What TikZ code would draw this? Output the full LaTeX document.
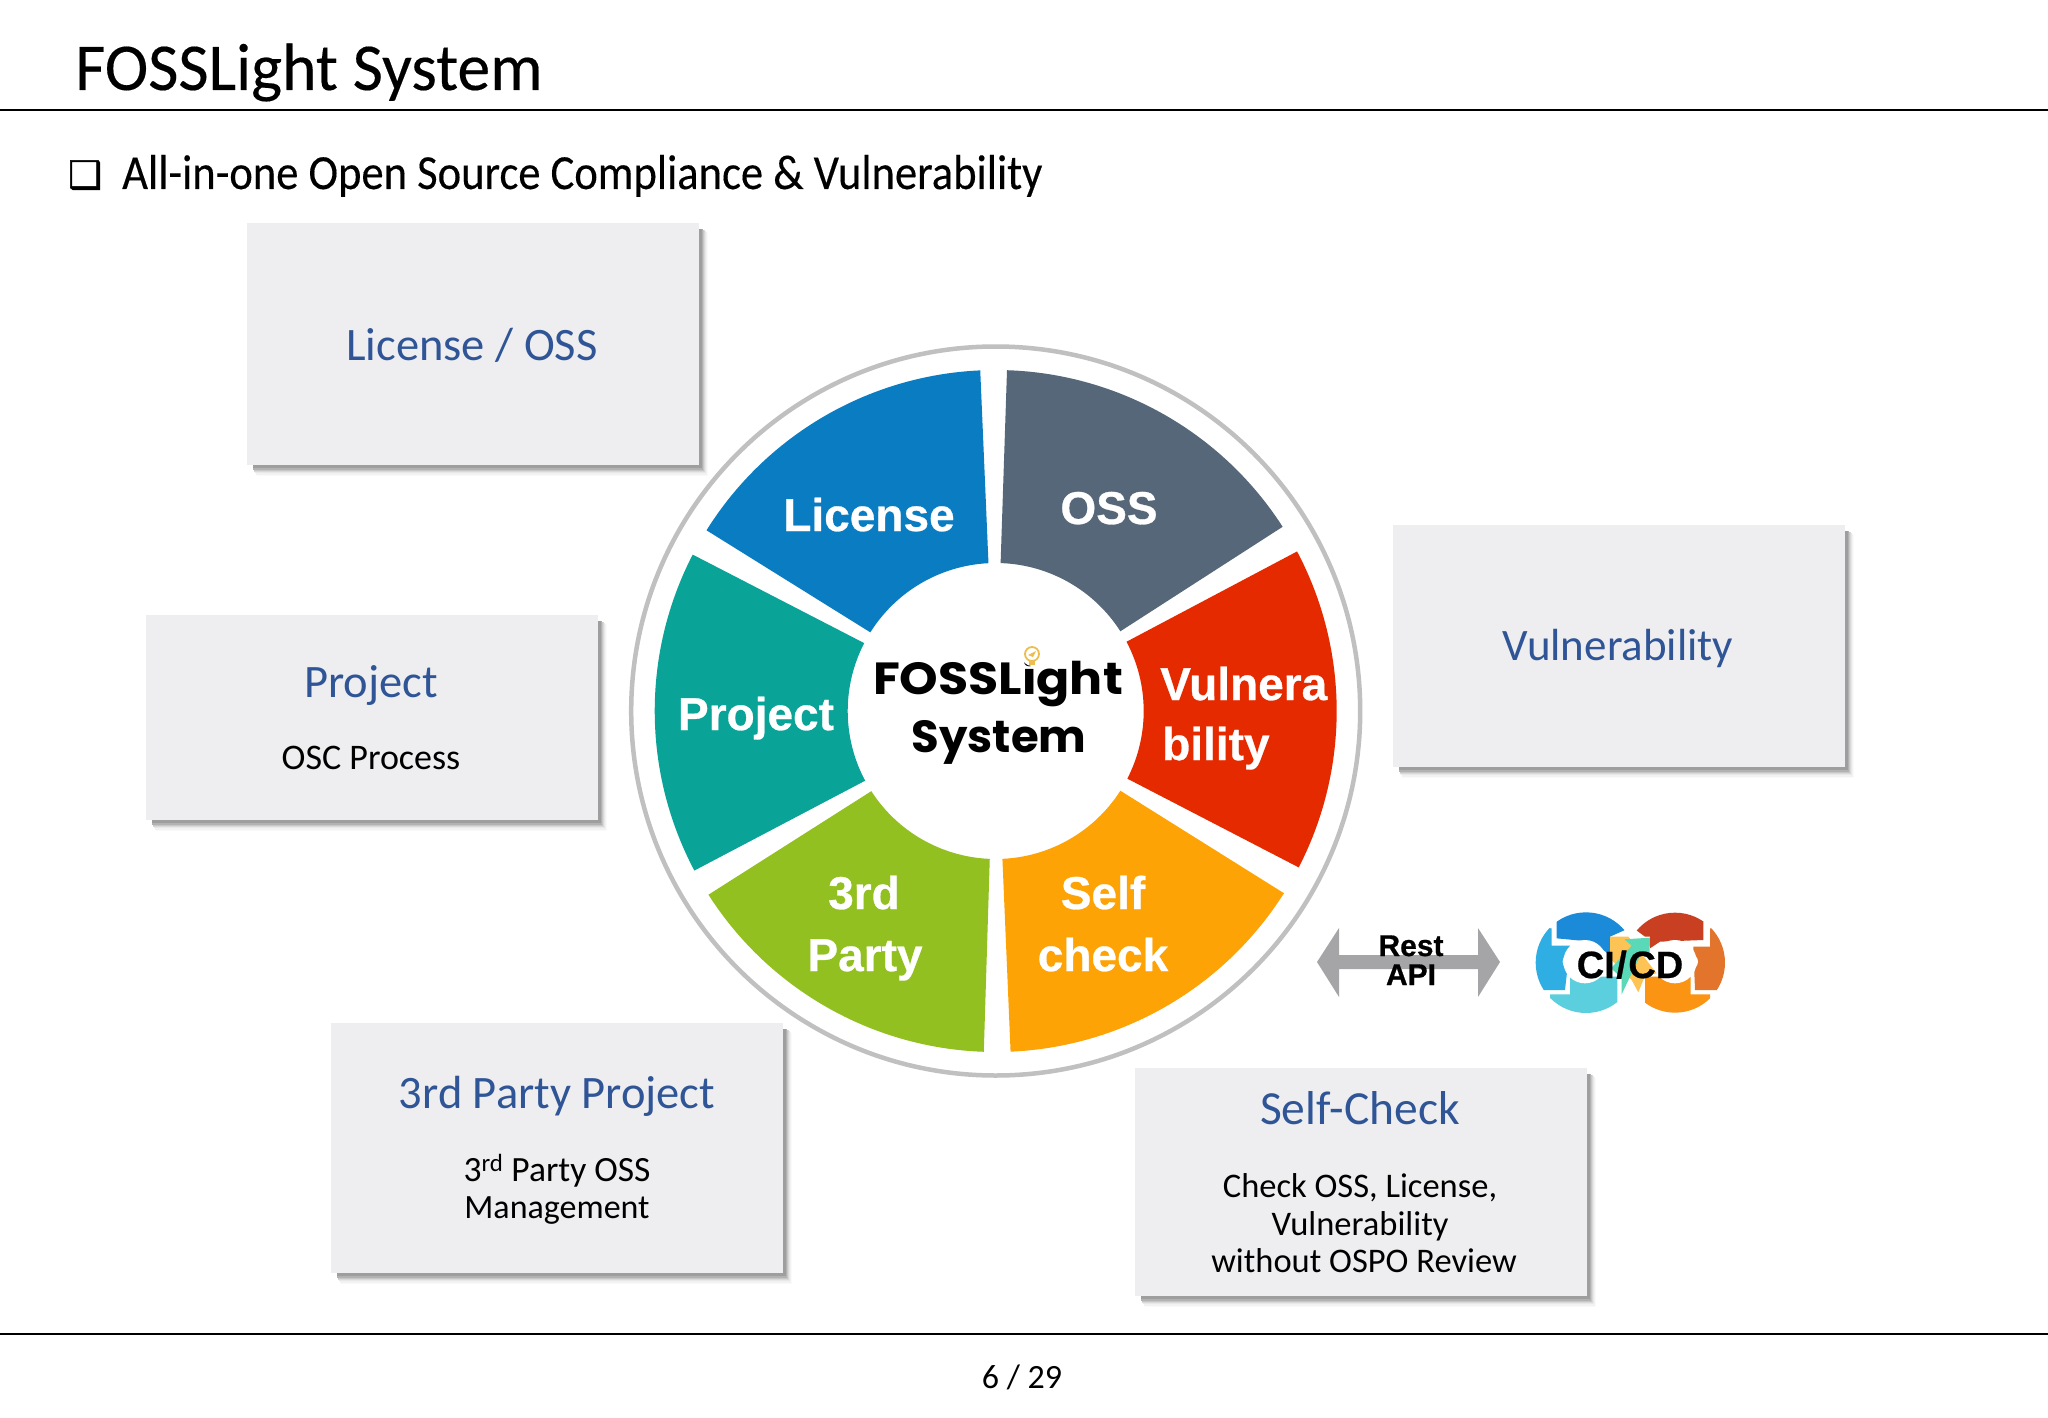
\documentclass[tikz,border=0pt]{standalone}
\usepackage{fontspec}
\setmainfont{Carlito}
\newfontfamily\titlefont{Carlito}[FakeStretch=0.98,FakeBold=0.25]
\newfontfamily\subfont{Carlito}[FakeStretch=0.91,FakeBold=0.25]
\newfontfamily\wheelfont{Liberation Sans Bold}[FakeBold=0.6]
\newfontfamily\logofont{Poppins Bold}
\newfontfamily\logowide{Poppins Bold}[FakeStretch=1.09]
\newfontfamily\symfont{DejaVu Sans}[FakeBold=1.2]
\definecolor{boxfill}{HTML}{EEEEF0}
\definecolor{headblue}{HTML}{2F5597}
\definecolor{ringgray}{HTML}{C0C0C0}
\definecolor{arrowgray}{HTML}{A5A5A8}
\definecolor{cLicense}{HTML}{0A7DC2}
\definecolor{cOSS}{HTML}{566779}
\definecolor{cVuln}{HTML}{E62A00}
\definecolor{cSelf}{HTML}{FDA305}
\definecolor{cThird}{HTML}{92C020}
\definecolor{cProject}{HTML}{0AA398}
\definecolor{bulb}{RGB}{236,190,80}
\newcommand{\fsz}[1]{\fontsize{#1}{#1}\selectfont}
\newcommand{\seg}[5]{\fill[#1] (#2:341) arc[start angle=#2,end angle=#3,radius=341] -- (#4:148) arc[start angle=#4,end angle=#5,radius=148] -- cycle;}
\newcommand{\shadowbox}[4]{%
 \fill[black!2] (#1+10,#2+10) rectangle (#3+9,#4+11);
 \fill[black!5] (#1+9,#2+9) rectangle (#3+8,#4+10);
 \fill[black!9] (#1+8,#2+8) rectangle (#3+7,#4+8);
 \fill[black!15] (#1+7,#2+7) rectangle (#3+6,#4+7);
 \fill[black!22] (#1+7,#2+7) rectangle (#3+5,#4+6);
 \fill[black!30] (#1+6,#2+6) rectangle (#3+4,#4+5);
 \fill[black!38] (#1+6,#2+6) rectangle (#3+3,#4+3);
}
\tikzset{
 panel/.style={fill=boxfill,draw=none,inner sep=0,minimum width=452,minimum height=#1,anchor=north west},
 head/.style={text=headblue,anchor=base,inner sep=0,font=\fsz{46.5}},
 body/.style={text=black,anchor=base,inner sep=0,font=\fsz{34.5}},
 wheellabel/.style={text=white,anchor=base,inner sep=0,font=\wheelfont\fsz{46}},
 apilabel/.style={text=black,anchor=base,inner sep=0,font=\wheelfont\fsz{30}},
 rule/.style={line width=2.4pt,black}
}
\begin{document}
\begin{tikzpicture}[x=1pt,y=-1pt]
\useasboundingbox (0,0) rectangle (2048,1418);
\fill[white] (0,0) rectangle (2048,1418);
% header
\coordinate (tl) at (0,110); \coordinate (tr) at (2048,110);
\coordinate (bl) at (0,1334); \coordinate (br) at (2048,1334);
\draw[rule] (tl) -- (tr);
\draw[rule] (bl) -- (br);
\node[anchor=base west,inner sep=0,font=\titlefont\fsz{67}] (title) at (75,90) {FOSSLight System};
\node[anchor=base west,inner sep=0,font=\symfont\fsz{38}] (bullet) at (68,188) {❑};
\node[anchor=base west,inner sep=0,font=\subfont\fsz{49}] (sub) at (122,189) {All-in-one Open Source Compliance \& Vulnerability};
\node[anchor=base,inner sep=0,font=\fsz{34}] (page) at (1022,1388) {6 / 29};
% panels
\shadowbox{247}{223}{699}{465}
\node[panel=242] (pLicense) at (247,223) {};
\shadowbox{146}{615}{598}{820}
\node[panel=205] (pProject) at (146,615) {};
\shadowbox{331}{1023}{783}{1273}
\node[panel=250] (pThird) at (331,1023) {};
\shadowbox{1135}{1068}{1587}{1296}
\node[panel=228] (pSelf) at (1135,1068) {};
\shadowbox{1393}{525}{1845}{767}
\node[panel=242] (pVuln) at (1393,525) {};
\node[head] (tLicense) at (472,360) {License / OSS};
\node[head] (tProject) at (371,697) {Project};
\node[body,font=\fsz{36}] (tOSC) at (371,769) {OSC Process};
\node[head] (tThird) at (557,1108) {3rd Party Project};
\node[body,font=\fsz{35.5}] (tThirdA) at (557,1181) {3\textsuperscript{rd} Party OSS};
\node[body,font=\fsz{34}] (tThirdB) at (557,1218) {Management};
\node[head,font=\fsz{47.5}] (tSelf) at (1360,1124) {Self-Check};
\node[body] (tSelfA) at (1360,1197) {Check OSS, License,};
\node[body] (tSelfB) at (1360,1235) {Vulnerability};
\node[body] (tSelfC) at (1364,1272) {without OSPO Review};
\node[head,font=\fsz{45}] (tVuln) at (1618,660) {Vulnerability};
% wheel
\begin{scope}[shift={(995.7,711)}]
\draw[ringgray,line width=4.5pt,fill=white] (0,0) circle[radius=364.5];
\seg{cLicense}{-92.6}{-148}{-147.9}{-92.8}
\seg{cOSS}{-88.1}{-32.7}{-32.6}{-88.1}
\seg{cVuln}{-27.9}{27.3}{27.2}{-27.9}
\seg{cSelf}{32.3}{87.5}{87.4}{32.6}
\seg{cThird}{147.4}{92}{92.3}{147.2}
\seg{cProject}{152.1}{207.3}{207.3}{151.9}
\end{scope}
\node[wheellabel] (wLicense) at (869,531) {License};
\node[wheellabel] (wOSS) at (1109,524) {OSS};
\node[wheellabel] (wProject) at (756,730) {Project};
\node[wheellabel,anchor=base west] (wVulnA) at (1160,700) {Vulnera};
\node[wheellabel,anchor=base west] (wVulnB) at (1162,760) {bility};
\node[wheellabel] (wSelfA) at (1103,909) {Self};
\node[wheellabel] (wSelfB) at (1103,971) {check};
\node[wheellabel] (wThirdA) at (864,909) {3rd};
\node[wheellabel] (wThirdB) at (865,971) {Party};
% centre logo
\node[anchor=base,inner sep=0,font=\logowide\fsz{45}] (lgA) at (998,694) {FOSSLight};
\node[anchor=base,inner sep=0,font=\logofont\fsz{45}] (lgB) at (999,752) {System};
\fill[white] (1032,656) circle[radius=10];
\draw[bulb,line width=1.8pt] (1032,654) circle[radius=7];
\fill[bulb] (1029,661) rectangle (1035,665);
\fill[bulb] (1028,655) -- (1036,651) -- (1033,657) -- cycle;
% rest arrow
\fill[arrowgray] (1317,962) -- (1339,928) -- (1339,955) -- (1478,955) -- (1478,928) -- (1500,962) -- (1478,997) -- (1478,969) -- (1339,969) -- (1339,997) -- cycle;
\node[apilabel] (rest) at (1411,956) {Rest};
\node[apilabel] (api) at (1411,985) {API};
% CI/CD logo
\begin{scope}[shift={(1530,905)},x=0.3333pt,y=-0.3333pt]
\begin{scope}
\clip (168,173) circle[radius=151];
\fill[color={rgb,255:red,27;green,138;blue,216}] (80,0) -- (330,0) -- (285,75) -- (240,95) -- (240,150) -- (185,110) -- (80,100) -- cycle;
\fill[color={rgb,255:red,46;green,174;blue,227}] (-10,65) -- (65,70) -- (65,122) -- (120,122) -- (105,255) -- (-10,255) -- cycle;
\fill[color={rgb,255:red,92;green,207;blue,222}] (60,268) -- (120,268) -- (120,215) -- (262,215) -- (262,340) -- (60,340) -- cycle;
\end{scope}
\begin{scope}
\clip (435,173) circle[radius=150];
\fill[color={rgb,255:red,200;green,63;blue,34}] (318,75) -- (345,95) -- (360,95) -- (360,130) -- (390,110) -- (520,105) -- (520,0) -- (300,0) -- cycle;
\fill[color={rgb,255:red,226;green,117;blue,43}] (540,70) -- (540,125) -- (490,125) -- (495,255) -- (600,255) -- (600,65) -- cycle;
\fill[color={rgb,255:red,251;green,147;blue,19}] (345,215) -- (345,340) -- (540,340) -- (540,268) -- (482,268) -- (482,215) -- cycle;
\end{scope}
\fill[white] (165,170) circle[radius=65];
\fill[white] (122,170) circle[radius=24];
\fill[white] (435,170) circle[radius=65];
\fill[white] (480,170) circle[radius=24];
\fill[color={rgb,255:red,253;green,195;blue,84}] (240,95) -- (295,95) -- (380,205) -- (345,212) -- (325,262) -- (305,225) -- (240,160) -- cycle;
\fill[color={rgb,255:red,90;green,217;blue,184}] (275,268) -- (275,218) -- (243,190) -- (305,122) -- (283,103) -- (360,98) -- (358,165) -- (335,142) -- cycle;
\end{scope}
\node[anchor=base,inner sep=0,font=\wheelfont\fsz{38}] (cicd) at (1630,978) {CI{\kern1.5pt}/{\kern1.5pt}CD};
\end{tikzpicture}
\end{document}
